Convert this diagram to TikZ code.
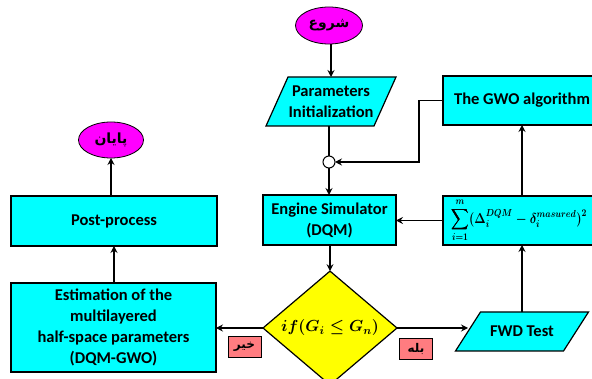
\documentclass[tikz,border=0pt]{standalone}
\usepackage{fix-cm}
\usepackage{fontspec}
\usepackage{amsmath,bm}
\setmainfont{Carlito}
\newfontfamily\arabicfont[Script=Arabic]{DejaVu Sans}
\TeXXeTstate=1
\usetikzlibrary{arrows.meta,shapes.geometric,backgrounds,calc}
\definecolor{boxcyan}{HTML}{00FFFF}
\definecolor{ovalmag}{HTML}{FF00FF}
\definecolor{diayel}{HTML}{FFFF00}
\definecolor{tagred}{HTML}{FF7C80}
\begin{document}
\begin{tikzpicture}[x=1pt,y=-1pt,
  every node/.style={inner sep=0pt,outer sep=0pt,font=\fontsize{16.5}{21}\selectfont\bfseries,align=center},
  bx/.style={draw,line width=1.2pt,fill=boxcyan,rectangle},
  oval/.style={draw,line width=0.8pt,fill=ovalmag,ellipse},
  para/.style={rectangle},
  tag/.style={draw,line width=0.8pt,fill=tagred,rectangle,minimum width=33pt,minimum height=21pt,font=\fontsize{12}{14}\selectfont\arabicfont\bfseries},
  ln/.style={line width=1.2pt},
  arr/.style={line width=1.2pt,-{Stealth[length=7pt,width=7pt,inset=2.5pt]}}]
\useasboundingbox (0,0) rectangle (592,379);
% nodes
\node[oval,minimum width=67pt,minimum height=37pt,font=\fontsize{14}{16}\selectfont\bfseries] (start) at (329,25.5) {\arabicfont\beginR شروع\endR};
\node[para,minimum width=108pt,minimum height=49pt] (init) at (331,101.5) {Parameters\\Initialization};
\node[draw,circle,line width=1pt,fill=white,minimum size=12pt] (circ) at (329,162) {};
\node[bx,minimum width=133pt,minimum height=50pt] (eng) at (329.5,220) {Engine Simulator\\(DQM)};
\node[bx,minimum width=158pt,minimum height=49pt] (gwo) at (522,100.5) {The GWO algorithm};
\node[bx,minimum width=158pt,minimum height=49pt,font=\fontsize{14.5}{17}\selectfont\boldmath] (sum) at (522,220.5)
  {\hspace*{-6pt}\scalebox{0.84}[1]{$\bm{\displaystyle\sum_{i=1}^{m}(\Delta_i^{DQM}-\delta_i^{masured})^2}$}};
\node[para,minimum width=108pt,minimum height=39pt] (fwd) at (522,331.5) {FWD Test};
\node[draw,diamond,line width=1.2pt,fill=diayel,minimum width=134pt,minimum height=106pt,font=\fontsize{16}{18}\selectfont\boldmath] (dia) at (330,328)
  {$\bm{if(G_i\le G_n)}$};
\node[bx,minimum width=205pt,minimum height=89pt] (est) at (113.5,327.5)
  {Estimation of the\\multilayered\\half-space parameters\\(DQM-GWO)};
\node[bx,minimum width=206pt,minimum height=50pt] (post) at (114,221) {Post-process};
\node[oval,minimum width=65pt,minimum height=36pt,font=\fontsize{14}{16}\selectfont\bfseries] (end) at (111,140) {\arabicfont\beginR پایان\endR};
\node[tag] (no) at (244.5,347) {\beginR خیر\endR};
\node[tag] (yes) at (416,348.5) {\beginR بله\endR};
% parallelogram outlines
\begin{scope}[on background layer]
\fill[white] (0,0) rectangle (592,379);
\draw[line width=1.2pt,fill=boxcyan] ($(init.south west)+(-11,0)$) -- ($(init.south east)+(-11,0)$)
  -- ($(init.north east)+(11,0)$) -- ($(init.north west)+(11,0)$) -- cycle;
\draw[line width=1.2pt,fill=boxcyan] ($(fwd.south west)+(-12.5,0)$) -- ($(fwd.south east)+(-12.5,0)$)
  -- ($(fwd.north east)+(12.5,0)$) -- ($(fwd.north west)+(12.5,0)$) -- cycle;
\end{scope}
% connectors
\draw[arr] (start.south -| init.north) -- (init.north);
\draw[ln] (init.south -| circ) -- (circ.north);
\draw[arr] (circ.south) -- (circ.south |- eng.north);
\coordinate (bend) at (419,100.5);
\draw[arr] (gwo.west) -- (bend) |- (circ.east);
\draw[arr] (sum.west) -- (sum.west -| eng.east);
\draw[arr] (sum.north) -- (gwo.south);
\draw[arr] (fwd.north) -- (fwd.north |- sum.south);
\draw[arr] (eng.south -| dia.north) -- (dia.north);
\draw[arr] (dia.east) -- (dia.east -| fwd.west);
\draw[arr] (dia.west) -- (dia.west -| est.east);
\draw[arr] (est.north -| post.south) -- (post.south);
\draw[arr] (post.north -| end.south) -- (end.south);
\end{tikzpicture}
\end{document}
